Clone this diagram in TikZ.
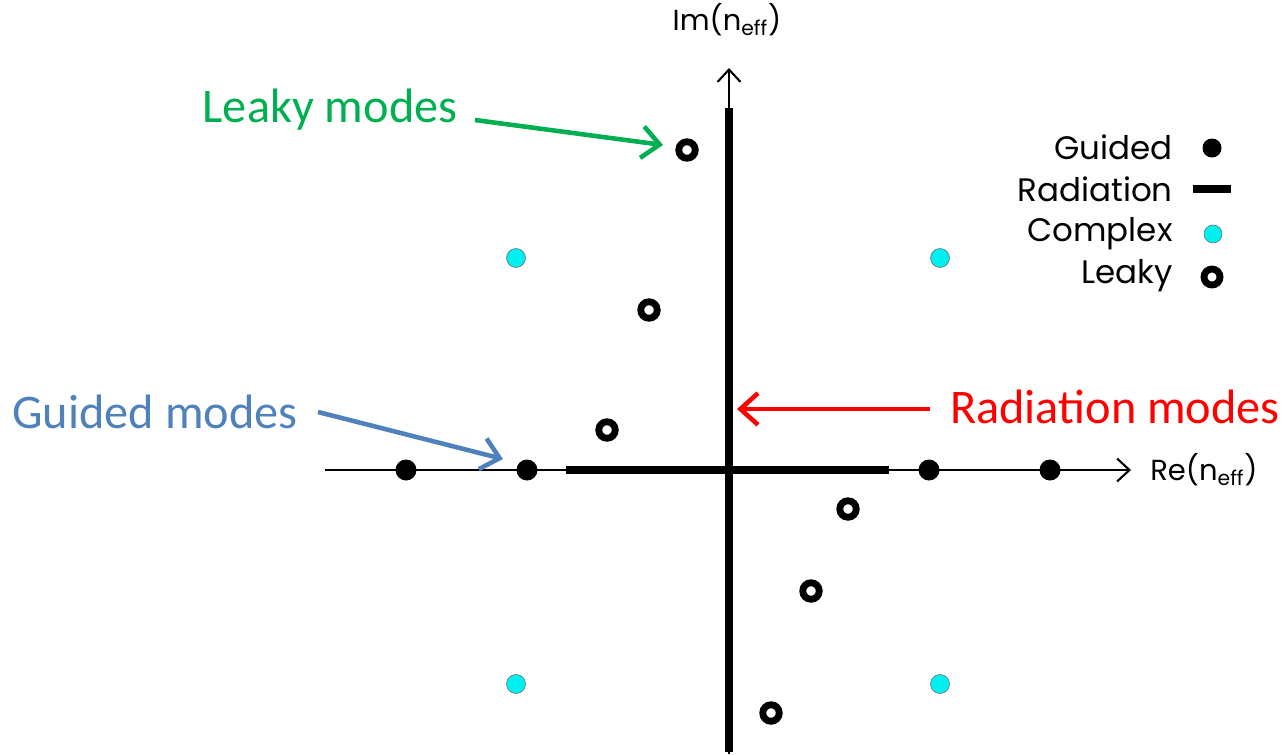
\documentclass[tikz,border=0pt]{standalone}
\usepackage{fontspec}
\setmainfont{Carlito}
\newfontfamily\geofont{Poppins}
\usetikzlibrary{arrows.meta}
\definecolor{lkgreen}{RGB}{0,176,80}
\definecolor{gdblue}{RGB}{79,129,189}
\definecolor{rdred}{RGB}{255,0,0}
\definecolor{cplx}{RGB}{0,240,240}
\tikzset{
  guided/.style={circle,fill=black,minimum size=0.42cm,inner sep=0pt},
  leaky/.style={circle,draw=black,fill=white,line width=3.9pt,minimum size=0.33cm,inner sep=0pt},
  complex/.style={circle,fill=cplx,draw=black!60,line width=0.3pt,minimum size=0.38cm,inner sep=0pt},
  thinaxis/.style={line width=0.8pt,-{Straight Barb[length=7pt,width=13pt,line width=1.2pt]}},
  thickline/.style={line width=4pt},
  callout/.style={line width=2.6pt,-{Straight Barb[length=10pt,width=18pt,line width=2.6pt]}},
  axlabel/.style={font=\geofont\fontsize{16.5}{20}\selectfont,inner sep=0pt},
  leglabel/.style={font=\geofont\fontsize{18.5}{22}\selectfont,inner sep=0pt,anchor=east},
  modelabel/.style={font=\fontsize{27.5}{32}\selectfont,inner sep=0pt}
}
\begin{document}
\begin{tikzpicture}[x=0.02cm,y=-0.02cm]
\useasboundingbox (0,0) rectangle (1284,754);
% axes
\coordinate (xs) at (325,470);
\coordinate (xe) at (1131,470);
\coordinate (ys) at (729,754);
\coordinate (ye) at (729,68);
\coordinate (rhs) at (566,470);
\coordinate (rhe) at (889,470);
\coordinate (rvs) at (729,752);
\coordinate (rve) at (729,108);
\draw[thinaxis] (xs) -- (xe);
\draw[thinaxis] (ys) -- (ye);
\draw[thickline] (rhs) -- (rhe);
\draw[thickline] (rvs) -- (rve);
\node[axlabel] (imlbl) at (727,20) {Im(n\textsubscript{eff})};
\node[axlabel,anchor=west] (relbl) at (1150,470) {Re(n\textsubscript{eff})};
% guided
\node[guided] (g1) at (406,470) {};
\node[guided] (g2) at (527,470) {};
\node[guided] (g3) at (929,470) {};
\node[guided] (g4) at (1050,470) {};
% complex
\node[complex] (c1) at (516,258) {};
\node[complex] (c2) at (940,258) {};
\node[complex] (c3) at (516,684) {};
\node[complex] (c4) at (940,684) {};
% leaky
\node[leaky] (l1) at (687,150) {};
\node[leaky] (l2) at (649,310) {};
\node[leaky] (l3) at (607,430) {};
\node[leaky] (l4) at (848,509) {};
\node[leaky] (l5) at (811,591) {};
\node[leaky] (l6) at (771,713) {};
% legend
\node[leglabel] (lg1) at (1173,147) {Guided};
\node[leglabel] (lg2) at (1173,189) {Radiation};
\node[leglabel] (lg3) at (1173,234) {Complex};
\node[leglabel] (lg4) at (1173,276) {Leaky};
\node[guided,minimum size=0.38cm] (lgd) at (1212,148) {};
\coordinate (lrs) at (1193,189);
\coordinate (lre) at (1231,189);
\draw[thickline] (lrs) -- (lre);
\node[complex,minimum size=0.36cm] (lcp) at (1213,234) {};
\node[leaky,minimum size=0.32cm] (llk) at (1212,277) {};
% mode labels
\node[modelabel,text=lkgreen] (lkl) at (330,110) {Leaky modes};
\node[modelabel,text=gdblue] (gdl) at (155,412) {Guided modes};
\node[modelabel,text=rdred] (rdl) at (1115,407) {Radiation modes};
\coordinate (lka) at (475,120);
\coordinate (lkb) at (663,145);
\coordinate (gda) at (318,412);
\coordinate (gdb) at (503,459);
\coordinate (rda) at (930,409);
\coordinate (rdb) at (737,409);
\draw[callout,lkgreen] (lka) -- (lkb);
\draw[callout,gdblue] (gda) -- (gdb);
\draw[callout,rdred] (rda) -- (rdb);
\end{tikzpicture}
\end{document}
